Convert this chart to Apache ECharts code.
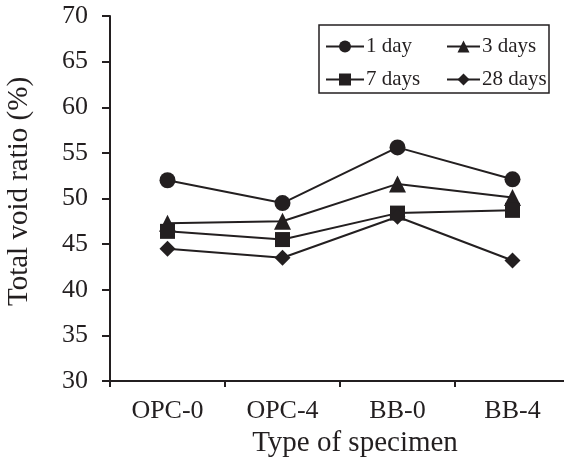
<!DOCTYPE html>
<html><head><meta charset="utf-8">
<script src="https://cdn.jsdelivr.net/npm/echarts@6/dist/echarts.min.js"></script>
<style>html,body{margin:0;padding:0;background:#fff}#c{width:564px;height:460px}</style>
</head><body><div id="c"></div>
<script>
var categories = ['OPC-0', 'OPC-4', 'BB-0', 'BB-4'];
var day1 = [52.0, 49.5, 55.6, 52.1];
var day3 = [47.3, 47.5, 51.6, 50.1];
var day7 = [46.4, 45.5, 48.4, 48.7];
var day28 = [44.5, 43.5, 48.0, 43.2];
var seriesNames = ['1 day', '3 days', '7 days', '28 days'];
var yTicks = [30, 35, 40, 45, 50, 55, 60, 65, 70];

var C = '#231f20';
var FONT = 'Liberation Serif';
function ser(name, data, symbol, size) {
  return {
    name: name, type: 'line', data: data, symbol: symbol, symbolSize: size,
    lineStyle: { color: C, width: 2 }, itemStyle: { color: C },
    emphasis: { disabled: true }, animation: false
  };
}
var legendText = { fontFamily: FONT, fontSize: 21, color: C, padding: [0, 0, 0, -3] };
var chart = echarts.init(document.getElementById('c'));
chart.setOption({
  animation: false,
  grid: { left: 110, top: 16, width: 460, bottom: 79, outerBoundsMode: 'none', containLabel: false },
  legend: [
    { data: [seriesNames[0], seriesNames[2]], orient: 'vertical', left: 325, top: 36,
      itemWidth: 38, itemHeight: 15, itemGap: 12, textStyle: legendText, padding: 0 },
    { data: [seriesNames[1], seriesNames[3]], orient: 'vertical', left: 446, top: 36,
      itemWidth: 33, itemHeight: 15, itemGap: 12, textStyle: legendText, padding: 0 }
  ],
  graphic: [{ type: 'rect', shape: { x: 319, y: 25, width: 230, height: 68 },
    style: { fill: 'none', stroke: C, lineWidth: 1.5 }, z: 10 }],
  xAxis: {
    type: 'category', data: categories, boundaryGap: true,
    name: 'Type of specimen', nameLocation: 'middle', nameGap: 40,
    nameTextStyle: { fontFamily: FONT, fontSize: 29, color: C, padding: [0, 0, 0, 30] },
    axisLine: { lineStyle: { color: C, width: 2 } },
    axisTick: { show: true, length: 6, lineStyle: { color: C, width: 2 } },
    axisLabel: { fontFamily: FONT, fontSize: 26, color: C, margin: 17 },
    splitLine: { show: false }
  },
  yAxis: {
    type: 'value', min: yTicks[0], max: yTicks[yTicks.length - 1], interval: 5,
    name: 'Total void ratio (%)', nameLocation: 'middle', nameGap: 76,
    nameTextStyle: { fontFamily: FONT, fontSize: 29, color: C, padding: [0, 0, 0, 14] },
    axisLine: { show: true, lineStyle: { color: C, width: 2 } },
    axisTick: { show: true, length: 8, lineStyle: { color: C, width: 2 } },
    axisLabel: { fontFamily: FONT, fontSize: 26, color: C, margin: 22 },
    splitLine: { show: false }
  },
  series: [
    ser(seriesNames[0], day1, 'circle', 16),
    ser(seriesNames[1], day3, 'triangle', 17),
    ser(seriesNames[2], day7, 'rect', 15),
    ser(seriesNames[3], day28, 'diamond', 16)
  ]
});
</script></body></html>
